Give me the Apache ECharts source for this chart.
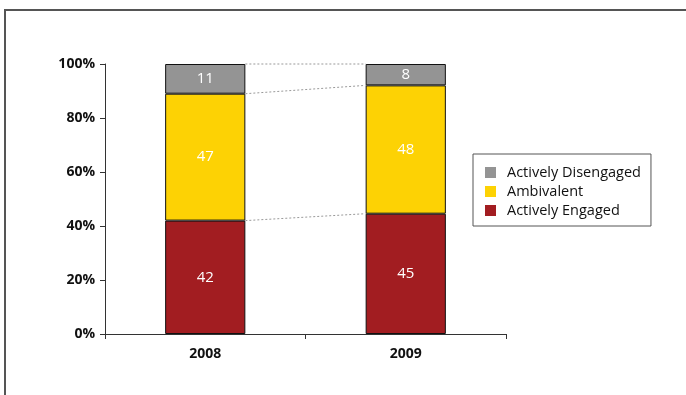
<!doctype html>
<html>
<head>
<meta charset="UTF-8">
<title>Engagement</title>
<script src="https://cdn.jsdelivr.net/npm/echarts@6/dist/echarts.min.js"></script>
<style>
  html, body { margin: 0; padding: 0; background: #fff; }
  #chart { width: 686px; height: 395px; }
</style>
</head>
<body>
<div id="chart"></div>
<script>
// data
var years = ['2008', '2009'];
var engaged = [42, 45];
var ambivalent = [47, 48];
var disengaged = [11, 8];
var yTicks = [0, 20, 40, 60, 80, 100];

var colors = { dis: '#949494', amb: '#fdd204', eng: '#a21d21' };

// 100% stacked: scale each year to its own total
var totals = years.map(function (y, i) { return engaged[i] + ambivalent[i] + disengaged[i]; });
function pct(arr) { return arr.map(function (v, i) { return v / totals[i] * 100; }); }
var engPct = pct(engaged), ambPct = pct(ambivalent), disPct = pct(disengaged);

// boundaries between segments, used for the dotted connectors
var bounds = [
  [engPct[0], engPct[1]],
  [engPct[0] + ambPct[0], engPct[1] + ambPct[1]],
  [100, 100]
];

var chart = echarts.init(document.getElementById('chart'));
var fontFam = '"Open Sans", "Noto Sans", sans-serif';

function barSeries(name, data, raw, color) {
  return {
    name: name,
    type: 'bar',
    stack: 'all',
    barWidth: '40%',
    data: data.map(function (v, i) { return { value: v, raw: raw[i] }; }),
    itemStyle: { color: color, borderColor: '#111', borderWidth: 1 },
    label: {
      show: true,
      position: 'inside',
      color: '#fff',
      fontSize: 15,
      fontFamily: fontFam,
      formatter: function (p) { return p.data.raw; }
    }
  };
}

var option = {
  animation: false,
  color: [colors.dis, colors.amb, colors.eng],
  grid: { left: 105, right: 180, top: 64, bottom: 61 },
  graphic: [{
    type: 'rect',
    shape: { x: 5, y: 10, width: 700, height: 400 },
    style: { fill: 'none', stroke: '#555', lineWidth: 2 },
    silent: true
  }],
  legend: {
    orient: 'vertical',
    left: 473,
    top: 154,
    padding: [11, 10, 8, 12],
    borderColor: '#555',
    borderWidth: 1,
    itemWidth: 11,
    itemHeight: 11,
    itemGap: 4,
    icon: 'rect',
    itemStyle: { borderWidth: 0 },
    textStyle: { fontSize: 14.5, color: '#111', fontFamily: fontFam, padding: [0, 0, 0, 6] },
    data: ['Actively Disengaged', 'Ambivalent', 'Actively Engaged']
  },
  xAxis: {
    type: 'category',
    data: years,
    axisLine: { lineStyle: { color: '#333', width: 1 } },
    axisTick: { show: true, length: 5, lineStyle: { color: '#333' } },
    axisLabel: { color: '#111', fontSize: 14, fontWeight: 'bold', fontFamily: fontFam, margin: 13 }
  },
  yAxis: {
    type: 'value',
    min: yTicks[0],
    max: yTicks[yTicks.length - 1],
    interval: 20,
    splitLine: { show: false },
    axisLine: { show: true, lineStyle: { color: '#333', width: 1 } },
    axisTick: { show: true, length: 5, lineStyle: { color: '#333' } },
    axisLabel: { formatter: '{value}%', color: '#111', fontSize: 14, fontWeight: 'bold', fontFamily: fontFam, margin: 10 }
  },
  series: [
    barSeries('Actively Engaged', engPct, engaged, colors.eng),
    barSeries('Ambivalent', ambPct, ambivalent, colors.amb),
    barSeries('Actively Disengaged', disPct, disengaged, colors.dis),
    {
      type: 'custom',
      silent: true,
      z: 1,
      data: bounds,
      renderItem: function (params, api) {
        var a = api.coord([0, api.value(0)]);
        var b = api.coord([1, api.value(1)]);
        var half = api.size([1, 0])[0] * 0.4 / 2;
        return {
          type: 'line',
          shape: { x1: a[0] + half, y1: a[1], x2: b[0] - half, y2: b[1] },
          style: { stroke: '#999', lineWidth: 1, lineDash: [2, 2] }
        };
      },
      encode: { x: -1, y: [0, 1] }
    }
  ]
};

chart.setOption(option);
</script>
</body>
</html>
